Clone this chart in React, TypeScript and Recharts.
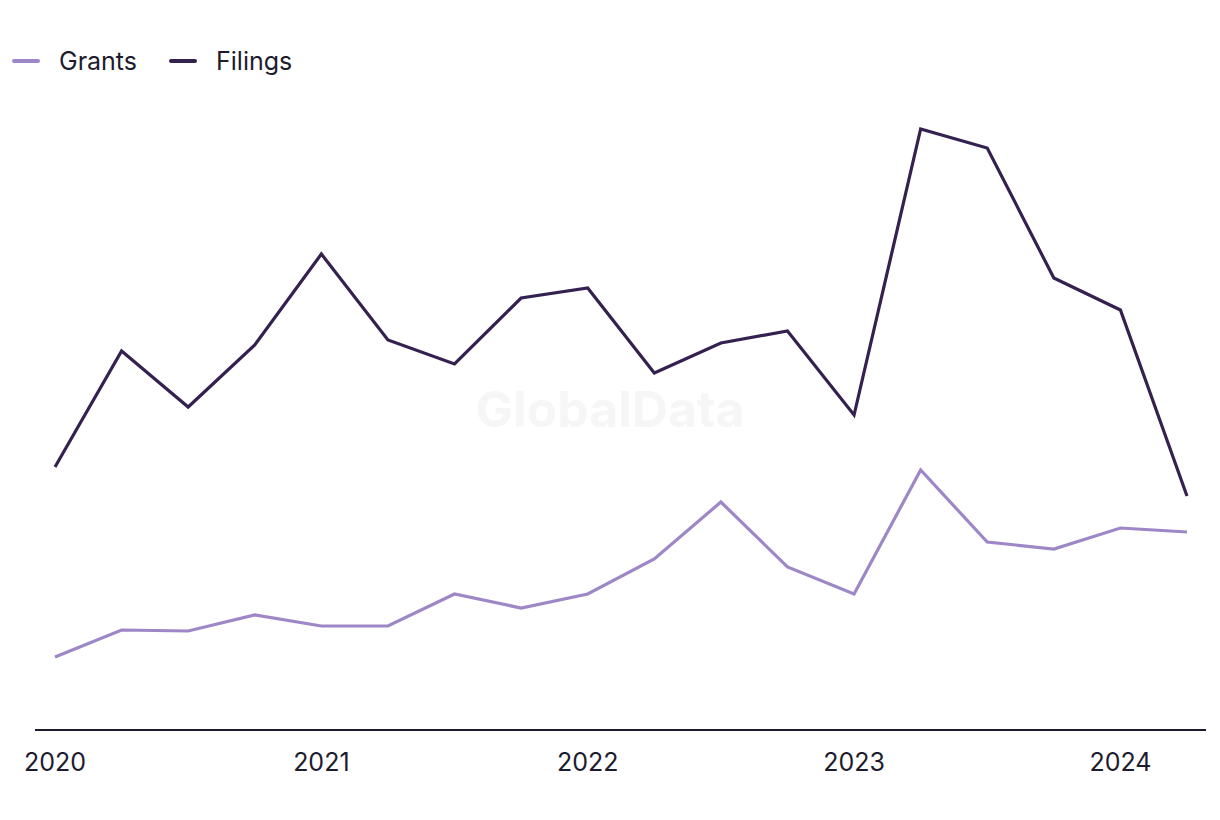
import React from "react";
import { LineChart, Line, XAxis, YAxis, Legend } from "recharts";

const quarters = [
  "Q1 2020", "Q2 2020", "Q3 2020", "Q4 2020",
  "Q1 2021", "Q2 2021", "Q3 2021", "Q4 2021",
  "Q1 2022", "Q2 2022", "Q3 2022", "Q4 2022",
  "Q1 2023", "Q2 2023", "Q3 2023", "Q4 2023",
  "Q1 2024", "Q2 2024",
];

const grants = [7.3, 10.0, 9.9, 11.5, 10.4, 10.4, 13.6, 12.2, 13.6, 17.1, 22.8, 16.3, 13.6, 26.0, 18.8, 18.1, 20.2, 19.8];
const filings = [26.3, 37.9, 32.3, 38.5, 47.6, 39.0, 36.6, 43.2, 44.2, 35.7, 38.7, 39.9, 31.5, 60.1, 58.2, 45.2, 42.0, 23.4];

const GRANTS_COLOR = "#9d87c6";
const FILINGS_COLOR = "#34214f";
const TEXT_COLOR = "#1c1c2e";
const FONT = "Inter, 'Noto Sans', sans-serif";

const data = quarters.map((q, i) => ({ quarter: q, grants: grants[i], filings: filings[i] }));

const legendItems = [
  { label: "Grants", color: GRANTS_COLOR },
  { label: "Filings", color: FILINGS_COLOR },
];

function ChartLegend() {
  return (
    <div style={{ display: "flex", alignItems: "center", fontFamily: FONT, fontSize: 25, lineHeight: "26px", color: TEXT_COLOR }}>
      {legendItems.map((item) => (
        <div key={item.label} style={{ display: "flex", alignItems: "center", marginRight: 32 }}>
          <span
            style={{
              display: "inline-block",
              width: 28,
              height: 4,
              borderRadius: 2,
              background: item.color,
              marginRight: 19,
            }}
          />
          <span>{item.label}</span>
        </div>
      ))}
    </div>
  );
}

export default function App() {
  return (
    <div style={{ position: "absolute", left: 0, top: 0, width: 1220, height: 820, background: "#fff" }}>
      <div
        style={{
          position: "absolute",
          left: 0,
          width: 1220,
          top: 379,
          textAlign: "center",
          fontFamily: "Inter, sans-serif",
          fontWeight: 700,
          fontSize: 50,
          color: "#f6f6f6",
        }}
      >
        GlobalData
      </div>
      <LineChart
        width={1220}
        height={820}
        data={data}
        margin={{ top: 54, right: 14, bottom: 30, left: 35 }}
        style={{ position: "absolute", left: 0, top: 0 }}
      >
        <XAxis
          dataKey="quarter"
          interval={3}
          height={60}
          padding={{ left: 20, right: 19 }}
          tickLine={false}
          tickSize={0}
          tickMargin={23}
          axisLine={{ stroke: TEXT_COLOR, strokeWidth: 2 }}
          tick={{ fill: TEXT_COLOR, fontSize: 25, fontFamily: FONT }}
          tickFormatter={(v: string) => v.split(" ")[1]}
        />
        <YAxis hide domain={[0, 65]} />
        <Legend
          verticalAlign="top"
          align="left"
          wrapperStyle={{ top: 48, left: 12 }}
          content={() => <ChartLegend />}
        />
        <Line
          type="linear"
          dataKey="grants"
          stroke={GRANTS_COLOR}
          strokeWidth={3.2}
          dot={false}
          isAnimationActive={false}
        />
        <Line
          type="linear"
          dataKey="filings"
          stroke={FILINGS_COLOR}
          strokeWidth={3.2}
          dot={false}
          isAnimationActive={false}
        />
      </LineChart>
    </div>
  );
}
